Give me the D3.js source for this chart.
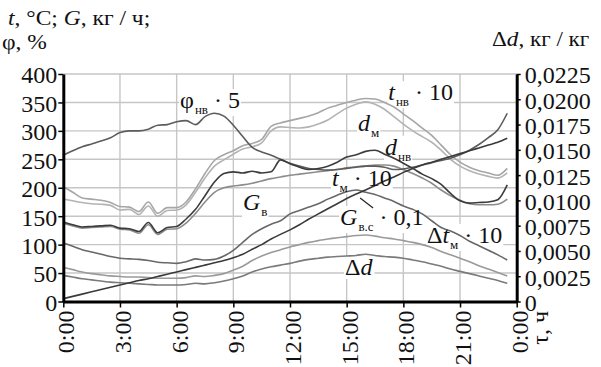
<!DOCTYPE html>
<html>
<head>
<meta charset="utf-8">
<script src="https://cdn.jsdelivr.net/npm/d3@7"></script>
<style>
  body { margin: 0; background: #fff; }
  svg, svg text { font-family: "Liberation Serif", "Times New Roman", Tinos, "DejaVu Serif", serif !important; }
</style>
</head>
<body>
<svg id="chart" width="601" height="367"></svg>
<script>
// half-hour readings over one day
const hours = [0, 0.5, 1, 1.5, 2, 2.5, 3, 3.5, 4, 4.5, 5, 5.5, 6, 6.5, 7, 7.5, 8, 8.5, 9, 9.5, 10, 10.5, 11, 11.5,
  12, 12.5, 13, 13.5, 14, 14.5, 15, 15.5, 16, 16.5, 17, 17.5, 18, 18.5, 19, 19.5, 20, 20.5, 21, 21.5, 22, 22.5, 23, 23.5];

const phiNv5 = [257, 265, 272, 277, 282, 288, 297, 300, 300, 303, 310, 311, 316, 318, 311, 325, 331, 326, 310, 290, 271, 263, 257, 250,
  243, 238, 234, 232, 231, 232, 234, 236, 238, 238, 236, 232, 233, 236, 240, 244, 248, 252, 258, 266, 276, 288, 302, 331];
const tNv10 = [202, 192, 182, 180, 178, 174, 167, 166, 158, 175, 155, 165, 165, 175, 198, 225, 248, 258, 265, 274, 278, 285, 308, 314,
  318, 322, 326, 332, 340, 345, 350, 354, 357, 356, 350, 342, 330, 318, 305, 292, 275, 258, 245, 236, 230, 226, 222, 234];
const dM = [180, 177, 174, 172, 171, 169, 161, 162, 153, 168, 150, 160, 161, 170, 192, 217, 238, 249, 259, 268, 272, 279, 300, 307,
  306, 305, 307, 312, 319, 330, 340, 347, 351, 347, 338, 325, 312, 300, 290, 280, 266, 250, 238, 230, 224, 220, 217, 226];
const dNv = [140, 135, 131, 132, 133, 134, 129, 128, 123, 139, 121, 130, 132, 145, 162, 186, 210, 225, 228, 226, 229, 226, 228, 249,
  242, 236, 232, 234, 238, 245, 254, 258, 264, 266, 259, 252, 243, 234, 224, 216, 206, 190, 177, 173, 174, 175, 179, 205];
const tM10 = [137, 133, 129, 130, 131, 132, 127, 126, 120, 135, 118, 127, 128, 138, 155, 175, 192, 200, 203, 205, 208, 212, 216, 219,
  222, 224, 226, 228, 230, 232, 235, 237, 238, 240, 240, 238, 232, 225, 217, 208, 196, 186, 178, 172, 170, 170, 171, 180];
const dtM10 = [103, 97, 91, 87, 83, 79, 76, 75, 74, 72, 69, 68, 67, 70, 75, 73, 74, 80, 90, 104, 118, 128, 136, 142,
  154, 160, 166, 172, 180, 187, 193, 196, 192, 188, 182, 176, 168, 162, 154, 142, 130, 124, 116, 106, 98, 90, 82, 73];
const gV = [60, 56, 52, 49, 47, 45, 44, 43, 43, 42, 41, 41, 41, 42, 45, 44, 46, 49, 55, 62, 72, 80, 86, 91,
  96, 100, 104, 107, 110, 112, 114, 116, 117, 115, 112, 110, 107, 104, 100, 95, 88, 82, 76, 70, 63, 57, 51, 45];
const deltaD = [46, 43, 40, 38, 36, 34, 33, 32, 31, 30, 29, 29, 29, 30, 32, 31, 33, 36, 40, 45, 52, 57, 61, 64,
  67, 71, 74, 76, 78, 79, 80, 81, 83, 81, 79, 78, 76, 73, 70, 66, 62, 57, 53, 49, 45, 41, 37, 32];
const gVs01 = [5, 9, 13, 17, 21, 25, 29, 33, 37, 40, 44, 48, 52, 56, 60, 64, 68, 72, 77, 83, 92, 100, 110, 118,
  126, 135, 145, 154, 163, 172, 181, 189, 196, 204, 212, 219, 227, 234, 240, 245, 250, 255, 260, 265, 270, 275, 280, 287];

const leftTicks = [0, 50, 100, 150, 200, 250, 300, 350, 400];
const rightTicks = [0, 0.0025, 0.005, 0.0075, 0.01, 0.0125, 0.015, 0.0175, 0.02, 0.0225];
const hourTicks = [0, 3, 6, 9, 12, 15, 18, 21, 24];

const FONT = '"Liberation Serif", "Times New Roman", Tinos, "DejaVu Serif", serif';

const svg = d3.select('#chart');
svg.append('rect').attr('width', 601).attr('height', 367).attr('fill', '#fff');

const x = d3.scaleLinear().domain([0, 24]).range([63.3, 516.7]);
const y = d3.scaleLinear().domain([0, 400]).range([301.5, 74]);
const yR = d3.scaleLinear().domain([0, 0.0225]).range([301.5, 74]);

// grid
const grid = svg.append('g').attr('stroke', '#c6c6c6').attr('stroke-width', 1.4);
grid.selectAll('line.h').data(leftTicks.slice(1)).join('line')
    .attr('x1', x(0)).attr('x2', x(24)).attr('y1', d => y(d)).attr('y2', d => y(d));
grid.selectAll('line.v').data(hourTicks.slice(1, -1)).join('line')
    .attr('y1', y(0)).attr('y2', y(400)).attr('x1', d => x(d)).attr('x2', d => x(d));

const boxLayer = svg.append('g');
const lineLayer = svg.append('g');
const labelLayer = svg.append('g');

const series = [
    { values: dM, color: '#b3b3b3' },
    { values: tNv10, color: '#a6a6a6' },
    { values: gV, color: '#9a9a9a' },
    { values: tM10, color: '#8c8c8c' },
    { values: deltaD, color: '#7a7a7a' },
    { values: dtM10, color: '#686868' },
    { values: phiNv5, color: '#5c5c5c' },
    { values: dNv, color: '#3c3c3c' },
    { values: gVs01, color: '#3a3a3a' }
];

const line = d3.line()
    .x((d, i) => x(hours[i]))
    .y(d => y(d))
    .curve(d3.curveMonotoneX);

lineLayer.selectAll('path').data(series).join('path')
    .attr('fill', 'none')
    .attr('stroke', d => d.color)
    .attr('stroke-width', 1.6)
    .attr('stroke-linejoin', 'round')
    .attr('d', d => line(d.values));

// axes
function styleAxis(g) {
    g.attr('font-family', FONT);
    g.select('.domain').attr('stroke', '#000').attr('stroke-width', 3);
    g.selectAll('.tick line').attr('stroke', '#000').attr('stroke-width', 1.5);
    g.selectAll('text').attr('font-size', 24).attr('fill', '#111');
}

svg.append('g')
    .attr('transform', `translate(${x(0)},0)`)
    .call(d3.axisLeft(y).tickValues(leftTicks).tickSize(5).tickSizeOuter(0).tickPadding(4).tickFormat(d3.format('d')))
    .call(styleAxis)
    .call(g => g.selectAll('text').attr('dy', '0.37em').attr('x', -6));

svg.append('g')
    .attr('transform', `translate(${x(24)},0)`)
    .call(d3.axisRight(yR).tickValues(rightTicks).tickSize(4).tickSizeOuter(0)
        .tickFormat(d => d === 0 ? '0' : d.toFixed(4).replace('.', ',')))
    .call(styleAxis)
    .call(g => g.selectAll('text').attr('dy', '0.37em').attr('x', 8));

svg.append('g')
    .attr('transform', `translate(0,${y(0)})`)
    .call(d3.axisBottom(x).tickValues(hourTicks).tickSize(6).tickSizeOuter(0)
        .tickFormat(h => (h % 24) + ':00'))
    .call(styleAxis)
    .call(g => g.selectAll('text')
        .attr('text-anchor', 'end')
        .attr('transform', 'rotate(-90)')
        .attr('x', -9).attr('y', 0).attr('dy', 10.5));

// axis titles
function title(parts, px, py, opts = {}) {
    const t = svg.append('text').attr('font-size', opts.size || 24).attr('fill', '#111');
    if (opts.rotate) t.attr('transform', `translate(${px},${py}) rotate(-90)`).attr('text-anchor', 'end');
    else t.attr('transform', `translate(${px},${py}) scale(${opts.sx || 1},1)`);
    parts.forEach(p => {
        const s = t.append('tspan').text(p[0]);
        if (p[1] === 'i') s.attr('font-style', 'italic');
    });
}
title([['t', 'i'], [', °C; '], ['G', 'i'], [', кг / ч;']], 8, 25, { size: 21, sx: 1.12 });
title([['φ, %']], 2, 49, { size: 21, sx: 1.12 });
title([['Δ'], ['d', 'i'], [', кг / кг']], 492, 46, { size: 22, sx: 1.05 });
title([['τ, ч']], 548, 311, { rotate: true });

// curve labels
const labelDefs = [
    { parts: [['φ'], ['нв', 's'], [' · 5']], h: 6.18, v: 340 },
    { parts: [['t', 'i'], ['нв', 's'], [' · 10']], h: 17.2, v: 354 },
    { parts: [['d', 'i'], ['м', 's']], h: 15.6, v: 300 },
    { parts: [['d', 'i'], ['нв', 's']], h: 17.03, v: 258 },
    { parts: [['t', 'i'], ['м', 's'], [' · 10']], h: 14.22, v: 203 },
    { parts: [['G', 'i'], ['в', 's']], h: 9.51, v: 161 },
    { parts: [['G', 'i'], ['в.с', 's'], [' · 0,1']], h: 14.65, v: 134.5 },
    { parts: [['Δ'], ['t', 'i'], ['м', 's'], [' · 10']], h: 19.25, v: 103 },
    { parts: [['Δ'], ['d', 'i']], h: 14.91, v: 46.6 }
];

labelDefs.forEach(def => {
    const t = labelLayer.append('text')
        .attr('x', x(def.h)).attr('y', y(def.v))
        .attr('font-size', 24).attr('fill', '#111');
    let shifted = false;
    def.parts.forEach(p => {
        const s = t.append('tspan').text(p[0]);
        if (p[1] === 'i') s.attr('font-style', 'italic');
        if (p[1] === 's') {
            s.attr('font-size', 13).attr('dy', 6).attr('dx', 1);
            shifted = true;
        } else if (shifted) {
            s.attr('dy', -6);
            shifted = false;
        }
    });
    const b = t.node().getBBox();
    boxLayer.append('rect')
        .attr('x', b.x - 1).attr('y', b.y + 2)
        .attr('width', b.width + 2).attr('height', b.height - 3)
        .attr('fill', '#fff');
});

// leader for the G_вс label
lineLayer.append('line')
    .attr('x1', x(15.71)).attr('y1', y(182))
    .attr('x2', x(16.4)).attr('y2', y(164.4))
    .attr('stroke', '#222').attr('stroke-width', 1.2);
</script>
</body>
</html>
